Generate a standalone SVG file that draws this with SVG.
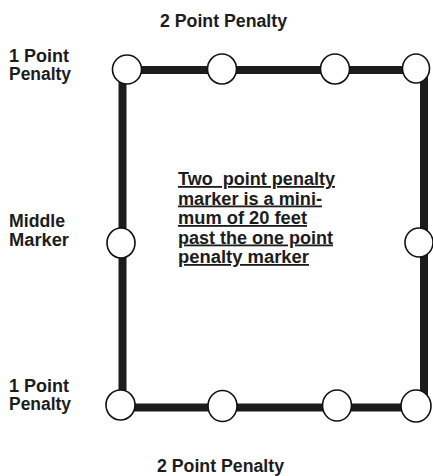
<svg xmlns="http://www.w3.org/2000/svg" width="433" height="476" viewBox="0 0 433 476">
<style>
.t{font-family:"Liberation Sans",Arial,sans-serif;font-weight:bold;font-size:17.5px;fill:#1c1c1c}
.c{font-family:"Liberation Sans",Arial,sans-serif;font-weight:bold;font-size:18px;fill:#1c1c1c;text-decoration:underline}
.ln{stroke:#1c1c1c;stroke-width:8;fill:none}
.m{fill:#fff;stroke:#111;stroke-width:1.6}
</style>
<rect width="433" height="476" fill="#fff"/>
<g id="connectors">
<line class="ln" x1="127" y1="70" x2="416" y2="70"/>
<line class="ln" x1="121" y1="407.5" x2="416" y2="407.5"/>
<line class="ln" x1="122.5" y1="70" x2="122.5" y2="407.5"/>
<line class="ln" x1="424" y1="70" x2="424" y2="407.5"/>
</g>
<g id="top-1"><ellipse class="m" cx="127" cy="69.5" rx="14.5" ry="14.5"/></g>
<g id="top-2"><ellipse class="m" cx="222" cy="69" rx="14.5" ry="15"/></g>
<g id="top-3"><ellipse class="m" cx="335" cy="69" rx="14.5" ry="15"/></g>
<g id="top-4"><ellipse class="m" cx="416" cy="68.5" rx="13.5" ry="14.5"/></g>
<g id="mid-left"><ellipse class="m" cx="121" cy="243" rx="14" ry="15"/></g>
<g id="mid-right"><ellipse class="m" cx="419" cy="242.5" rx="14" ry="14.5"/></g>
<g id="bot-1"><ellipse class="m" cx="120.5" cy="405" rx="14.5" ry="15"/></g>
<g id="bot-2"><ellipse class="m" cx="222.5" cy="406" rx="14.5" ry="15.5"/></g>
<g id="bot-3"><ellipse class="m" cx="337" cy="405.5" rx="14.5" ry="15.5"/></g>
<g id="bot-4"><ellipse class="m" cx="416" cy="406" rx="15" ry="16"/></g>
<g id="label-top">
<text class="t" x="160" y="27" textLength="127" lengthAdjust="spacingAndGlyphs">2 Point Penalty</text>
</g>
<g id="label-top-left">
<text class="t" x="9" y="62" textLength="60" lengthAdjust="spacingAndGlyphs">1 Point</text>
<text class="t" x="9" y="80" textLength="62" lengthAdjust="spacingAndGlyphs">Penalty</text>
</g>
<g id="label-middle">
<text class="t" x="9" y="227" textLength="56" lengthAdjust="spacingAndGlyphs">Middle</text>
<text class="t" x="9" y="246" textLength="60" lengthAdjust="spacingAndGlyphs">Marker</text>
</g>
<g id="label-bottom-left">
<text class="t" x="9" y="392" textLength="60" lengthAdjust="spacingAndGlyphs">1 Point</text>
<text class="t" x="9" y="410" textLength="62" lengthAdjust="spacingAndGlyphs">Penalty</text>
</g>
<g id="label-bottom">
<text class="t" x="157" y="472" textLength="127" lengthAdjust="spacingAndGlyphs">2 Point Penalty</text>
</g>
<g id="note">
<text class="c" x="178" y="185" textLength="157" lengthAdjust="spacingAndGlyphs" xml:space="preserve">Two  point penalty</text>
<text class="c" x="178" y="204.5" textLength="144" lengthAdjust="spacingAndGlyphs">marker is a mini-</text>
<text class="c" x="178" y="224" textLength="129" lengthAdjust="spacingAndGlyphs">mum of 20 feet</text>
<text class="c" x="178" y="243.5" textLength="155" lengthAdjust="spacingAndGlyphs">past the one point</text>
<text class="c" x="178" y="263" textLength="131" lengthAdjust="spacingAndGlyphs">penalty marker</text>
</g>
</svg>
